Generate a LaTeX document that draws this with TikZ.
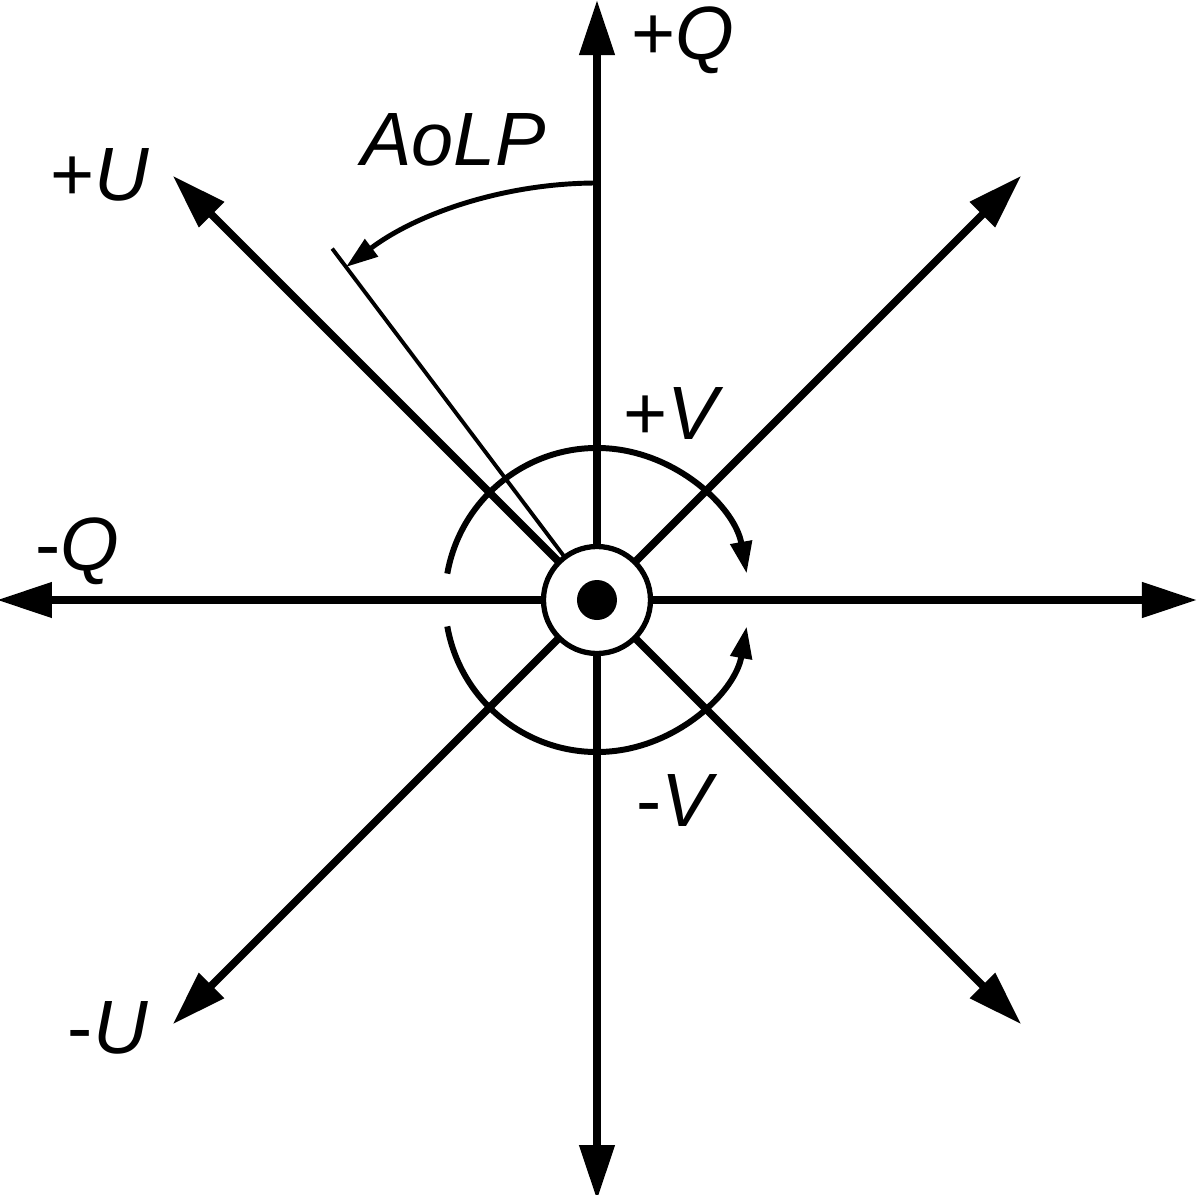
\documentclass[tikz,border=0pt]{standalone}
\usepackage{fontspec}
\setmainfont{Liberation Sans}
\usetikzlibrary{arrows.meta}

\begin{document}
\begin{tikzpicture}[
	axis/.style={line width=2.2pt,-{Triangle[length=5.5mm,width=3.4mm]}},
	turn/.style={line width=1.7pt,-{Triangle[length=3.2mm,width=2.1mm]}},
	lbl/.style={font=\fontsize{21.5}{25}\selectfont}]
	\useasboundingbox (-5.97,-5.94) rectangle (6.03,6.00);
	\coordinate (O) at (0,0);
	\foreach \a in {0,45,...,315}
		\draw[axis] (O) -- (\a:6) coordinate (t\a);

	% angle of linear polarization
	\coordinate (P) at (127:4.4);
	\draw[line width=1.1pt] (O) -- (P);
	\draw[turn,line width=1.4pt] (90:4.17) arc[start angle=90,end angle=127,radius=4.17];

	\node[circle,draw,line width=1.5pt,fill=white,minimum size=1.07cm,inner sep=0pt] (c) at (O) {};
	\fill (O) circle (0.2);
	\draw[turn] (170:1.52) arc[start angle=170,end angle=10,radius=1.52];
	\draw[turn] (190:1.52) arc[start angle=190,end angle=350,radius=1.52];

	\node[lbl] (q+) at (0.86,5.60) {+\textit{Q}};
	\node[lbl] (q-) at (-5.20,0.49) {-\textit{Q}};
	\node[lbl] (u+) at (-4.97,4.25) {+\textit{U}};
	\node[lbl] (u-) at (-4.89,-4.28) {-\textit{U}};
	\node[lbl] (v+) at (0.77,1.86) {+\textit{V}};
	\node[lbl] (v-) at (0.80,-2.00) {-\textit{V}};
	\node[lbl] (aolp) at (-1.43,4.60) {\textit{AoLP}};
\end{tikzpicture}
\end{document}
